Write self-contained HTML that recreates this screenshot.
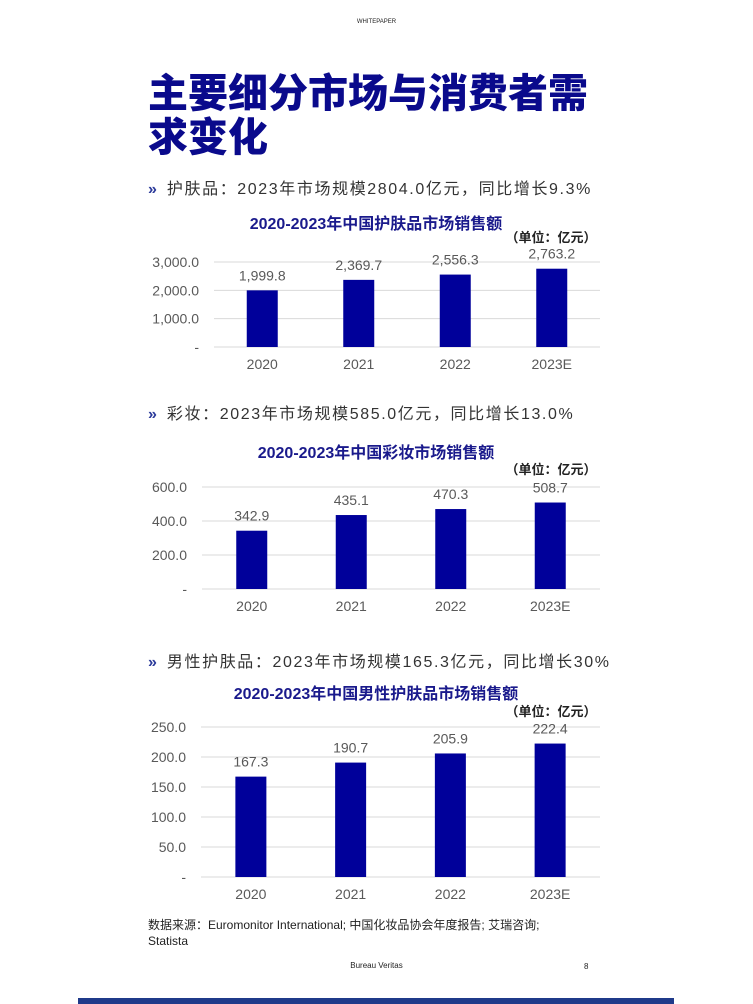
<!DOCTYPE html>
<html><head><meta charset="utf-8">
<style>
*{margin:0;padding:0;box-sizing:border-box}
body{width:753px;height:1004px;background:#fff;position:relative;overflow:hidden;font-family:"Liberation Sans","Noto Sans CJK SC",sans-serif}
.abs{position:absolute}
h1{position:absolute;left:148px;top:72px;font-size:40px;line-height:44px;font-weight:900;color:#0a0a8c;width:470px;letter-spacing:0px}
.bul{position:absolute;left:148px;font-size:16px;color:#333;letter-spacing:1.6px}
.bul b{color:#2b3a9a;font-weight:bold;margin-right:10px;letter-spacing:0}
svg{position:absolute;left:0;top:0}
</style></head><body>
<div class="abs" style="left:0;width:753px;top:19px;text-align:center;font-size:6px;color:#222">WHITEPAPER</div>
<h1>主要细分市场与消费者需求变化</h1>
<div class="bul" style="top:175px"><b>»</b>护肤品：2023年市场规模2804.0亿元，同比增长9.3%</div>
<div class="bul" style="top:400px"><b>»</b>彩妆：2023年市场规模585.0亿元，同比增长13.0%</div>
<div class="bul" style="top:648px"><b>»</b>男性护肤品：2023年市场规模165.3亿元，同比增长30%</div>
<svg id="charts" width="753" height="1004"></svg>
<div class="abs" style="left:148px;top:917px;font-size:12px;line-height:16px;color:#222;width:428px">数据来源：Euromonitor International; 中国化妆品协会年度报告; 艾瑞咨询; Statista</div>
<div class="abs" style="left:0;width:753px;text-align:center;top:961px;font-size:8px;color:#222">Bureau Veritas</div>
<div class="abs" style="left:584px;top:962px;font-size:8px;color:#222">8</div>
<div class="abs" style="left:78px;top:998px;width:596px;height:6px;background:#1f3a8a"></div>
<script>
const categories=["2020","2021","2022","2023E"];
const skinValues=[1999.8,2369.7,2556.3,2763.2];
const skinLabels=["1,999.8","2,369.7","2,556.3","2,763.2"];
const skinTicks=[0,1000,2000,3000];
const skinTickLabels=["-","1,000.0","2,000.0","3,000.0"];
const makeupValues=[342.9,435.1,470.3,508.7];
const makeupLabels=["342.9","435.1","470.3","508.7"];
const makeupTicks=[0,200,400,600];
const makeupTickLabels=["-","200.0","400.0","600.0"];
const menValues=[167.3,190.7,205.9,222.4];
const menLabels=["167.3","190.7","205.9","222.4"];
const menTicks=[0,50,100,150,200,250];
const menTickLabels=["-","50.0","100.0","150.0","200.0","250.0"];
const NS="http://www.w3.org/2000/svg";
const svg=document.getElementById('charts');
function mk(tag,attrs,txt){const e=document.createElementNS(NS,tag);for(const k in attrs)e.setAttribute(k,attrs[k]);if(txt!==undefined)e.textContent=txt;svg.appendChild(e);return e;}
function chart(cfg){
  const {x0,x1,yTop,yBot,max,vals,labs,ticks,tickLabs,title,titleY,unitY,key}=cfg;
  const band=(x1-x0)/categories.length;
  const xs=i=>x0+band*(i+0.5);
  const ys=v=>yBot-(v/max)*(yBot-yTop);
  let t=mk('text',{x:376,y:titleY,'text-anchor':'middle','font-size':16,'font-weight':'bold',fill:'#1a1a8c'},title);
  
  
  t=mk('text',{x:551,y:unitY,'text-anchor':'middle','font-size':13,'font-weight':'bold',fill:'#222'},'（单位：亿元）');
  
  
  ticks.forEach((v,i)=>{
    const g=mk('line',{x1:x0,x2:x1,y1:ys(v),y2:ys(v),stroke:'#d9d9d9','stroke-width':1});
    
    
    const l=mk('text',{x:x0-15,y:ys(v)+5,'text-anchor':'end','font-size':14,fill:'#595959'},tickLabs[i]);
    
    
  });
  vals.forEach((v,i)=>{
    const w=31;
    const r=mk('rect',{x:xs(i)-w/2,y:ys(v),width:w,height:yBot-ys(v),fill:'#00009a'});
    
    
    const l=mk('text',{x:xs(i),y:ys(v)-10,'text-anchor':'middle','font-size':14,fill:'#595959'},labs[i]);
    
    
    const c=mk('text',{x:xs(i),y:yBot+22,'text-anchor':'middle','font-size':14,fill:'#595959'},categories[i]);
    
    
  });
}
chart({x0:214,x1:600,yTop:262,yBot:347,max:3000,vals:skinValues,labs:skinLabels,ticks:skinTicks,tickLabs:skinTickLabels,title:'2020-2023年中国护肤品市场销售额',titleY:229,unitY:242,key:'skincare'});
chart({x0:202,x1:600,yTop:487,yBot:589,max:600,vals:makeupValues,labs:makeupLabels,ticks:makeupTicks,tickLabs:makeupTickLabels,title:'2020-2023年中国彩妆市场销售额',titleY:458,unitY:474,key:'makeup'});
chart({x0:201,x1:600,yTop:727,yBot:877,max:250,vals:menValues,labs:menLabels,ticks:menTicks,tickLabs:menTickLabels,title:'2020-2023年中国男性护肤品市场销售额',titleY:699,unitY:716,key:'mens'});
</script>
</body></html>
